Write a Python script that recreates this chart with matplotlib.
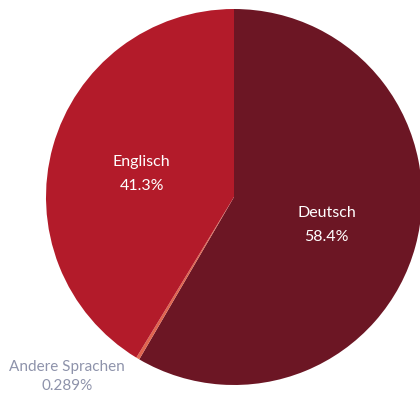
import matplotlib
matplotlib.use("Agg")
import numpy as np
import matplotlib.pyplot as plt

plt.rcParams['font.family'] = ['Lato', 'DejaVu Sans']

# language share
labels = ["Deutsch", "Andere Sprachen", "Englisch"]
values = [58.4, 0.289, 41.3]
pct_text = ["58.4%", "0.289%", "41.3%"]
colors = ["#6c1624", "#e0654f", "#b31b2a"]

W, H = 420, 395
fig = plt.figure(figsize=(W / 100, H / 100), dpi=100)
ax = fig.add_axes([0, 0, 1, 1])

cx, cy, r = 234, H - 197, 188
wedges, _ = ax.pie(values, colors=colors, startangle=90, counterclock=False,
                   center=(cx, cy), radius=r, frame=True,
                   wedgeprops=dict(linewidth=0))
ax.set_xlim(0, W)
ax.set_ylim(0, H)
ax.set_aspect('equal')
ax.axis('off')

for w, lab, pct in zip(wedges, labels, pct_text):
    mid = np.deg2rad((w.theta1 + w.theta2) / 2)
    if lab == "Andere Sprachen":
        ax.text(67, H - 367, lab, ha='center', va='center', fontsize=11, color="#8e93ab")
        ax.text(67, H - 386, pct, ha='center', va='center', fontsize=11, color="#8e93ab")
        continue
    x = cx + 0.51 * r * np.cos(mid)
    y = cy + 0.51 * r * np.sin(mid)
    ax.text(x, y + 9, lab, ha='center', va='center', fontsize=11.5, color="white")
    ax.text(x, y - 15, pct, ha='center', va='center', fontsize=11.5, color="white")

fig.savefig("out.png", dpi=100)
